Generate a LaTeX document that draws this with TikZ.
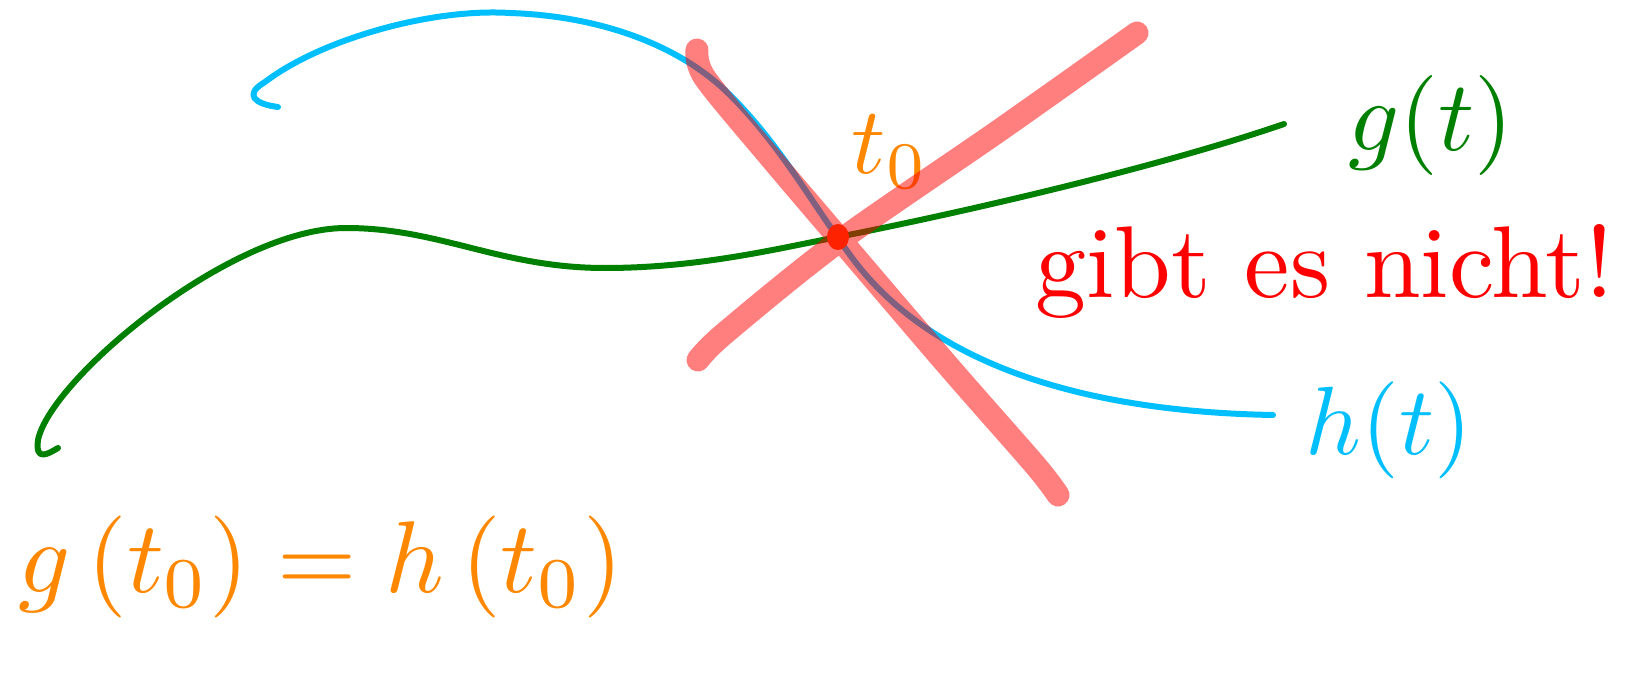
\documentclass[tikz,border=0pt]{standalone}
\definecolor{hblue}{RGB}{0,191,255}
\definecolor{ggreen}{RGB}{0,128,0}
\definecolor{tor}{RGB}{255,136,0}
\definecolor{xred}{RGB}{255,0,0}
\definecolor{dotc}{RGB}{255,69,0}
\begin{document}
\begin{tikzpicture}[x=1pt,y=-1pt,
  curve/.style={line width=6pt,line cap=round,line join=round},
  cross/.style={line width=23pt,line cap=round,line join=round,draw=xred},
  lab/.style={inner sep=0pt,anchor=base west}]
\useasboundingbox (0,0) rectangle (1636,674);
% h(t)
\draw[curve,draw=hblue] (278,107) .. controls (255,104) and (243,95) .. (265,82)
  .. controls (320,40) and (430,8) .. (510,13)
  .. controls (600,16) and (680,45) .. (730,95)
  .. controls (780,145) and (810,200) .. (850,255)
  .. controls (890,310) and (990,410) .. (1273,415);
% g(t)
\draw[curve,draw=ggreen] (58,448) .. controls (48,454) and (35,462) .. (38,440)
  .. controls (50,380) and (230,228) .. (346,228)
  .. controls (440,228) and (500,268) .. (605,268)
  .. controls (700,268) and (780,248) .. (838,237)
  .. controls (950,215) and (1150,170) .. (1284,124);
% point
\fill[dotc] (838,237) ellipse [x radius=11, y radius=13];
\coordinate (pt) at (838,237);
% labels
\node[lab,text=tor,scale=9.5] (tzero) at (850,174) {$t_0$};
\node[lab,text=ggreen,scale=10] (glab) at (1346,150) {$g(t)$};
\node[lab,text=hblue,scale=9.7] (hlab) at (1304,454) {$h(t)$};
\node[lab,text=xred,scale=10.2] (nicht) at (1033,297) {gibt es nicht!};
\node[lab,text=tor,scale=10.2] (eq) at (16,592) {$g\,(t_0) = h\,(t_0)$};
% cross
\begin{scope}[transparency group,opacity=0.5]
\draw[cross] plot[smooth,tension=0.5] coordinates {(697,50)(705,78)(770,157)(838,237)(950,368)(1035,465)(1058,495)};
\draw[cross] plot[smooth,tension=0.5] coordinates {(698,360)(725,333)(838,242)(1000,130)(1137,33)};
\end{scope}
\end{tikzpicture}
\end{document}
